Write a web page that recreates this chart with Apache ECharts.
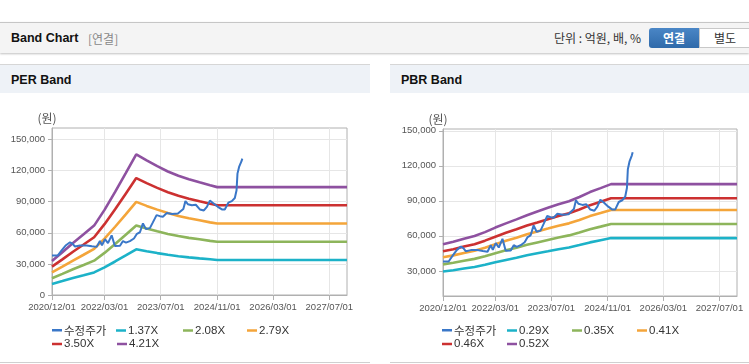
<!DOCTYPE html>
<html><head><meta charset="utf-8">
<script src="https://cdn.jsdelivr.net/npm/echarts@6/dist/echarts.min.js"></script>
<style>
html,body{margin:0;padding:0;width:749px;height:364px;overflow:hidden;background:#fff;font-family:'Liberation Sans',Arial,sans-serif;}
.topbar{position:absolute;left:0;top:22px;width:749px;height:30px;background:#f4f4f4;border-top:1px solid #c6c6c6;box-shadow:0 1px 2px rgba(0,0,0,0.25);}
.t1{position:absolute;left:11px;top:8px;font-weight:bold;font-size:12.5px;color:#111;}
.t2{position:absolute;left:88px;top:7px;font-size:12px;color:#888;font-family:'Noto Sans CJK KR',sans-serif;}
.unit{position:absolute;right:108px;top:6px;font-size:12px;color:#333;font-family:'Noto Sans CJK KR',sans-serif;}
.b1{position:absolute;left:649px;top:5px;width:50px;height:20px;background:linear-gradient(#4a86c6,#2f6aaa);border-radius:3px 0 0 3px;color:#fff;font-weight:bold;font-size:12px;text-align:center;line-height:20px;font-family:'Noto Sans CJK KR',sans-serif;}
.b2{position:absolute;left:699px;top:5px;width:50px;height:18px;background:#fff;border:1px solid #c8c8c8;color:#333;font-size:12px;text-align:center;line-height:18px;font-family:'Noto Sans CJK KR',sans-serif;}
.ph{position:absolute;top:64px;height:28px;background:#eef2f7;border-top:1px solid #d6d6d6;}
.ph span{position:absolute;left:11px;top:8px;font-weight:bold;font-size:12.5px;color:#111;}
.bl{position:absolute;top:362px;height:1px;background:#d0d0d0;}
#chart{position:absolute;left:0;top:0;width:749px;height:364px;z-index:2;}
</style></head>
<body>
<div class="topbar"><div class="t1">Band Chart</div><div class="t2">[연결]</div><div class="unit">단위 : 억원, 배, %</div><div class="b1">연결</div><div class="b2">별도</div></div>
<div class="ph" style="left:0;width:370px;"><span>PER Band</span></div>
<div class="ph" style="left:390px;width:359px;"><span>PBR Band</span></div>
<div class="bl" style="left:0;width:370px;"></div>
<div class="bl" style="left:390px;width:359px;"></div>
<div id="chart"></div>
<script>
const xTickDates = ['2020-12-01','2022-03-01','2023-07-01','2024-11-01','2026-03-01','2027-07-01'];
const xMin = '2020-12-01', xMax = '2027-12-01';
const perTicks = [0,30000,60000,90000,120000,150000];
const pbrTicks = [30000,60000,90000,120000,150000];

const priceName = '수정주가';
const priceDates = ['2020-12-01','2021-01-19','2021-02-26','2021-04-01','2021-05-06','2021-05-27','2021-06-18','2021-07-31','2021-09-27','2021-11-12','2021-12-23','2022-01-20','2022-02-07','2022-03-05','2022-03-31','2022-05-02','2022-05-30','2022-07-13','2022-08-08','2022-09-03','2022-10-07','2022-11-11','2022-12-07','2023-01-02','2023-01-28','2023-02-23','2023-03-29','2023-04-24','2023-05-26','2023-06-24','2023-07-20','2023-08-23','2023-10-06','2023-11-27','2023-12-23','2024-01-13','2024-01-31','2024-02-21','2024-03-27','2024-04-30','2024-06-04','2024-07-09','2024-08-04','2024-08-30','2024-09-29','2024-11-07','2024-12-12','2025-01-06','2025-02-06','2025-03-08','2025-04-03','2025-04-18','2025-04-26','2025-05-10','2025-05-31','2025-06-07'];
const priceValues = [38000,38000,43500,48000,50800,49500,46800,47800,47800,47000,46400,52000,48000,53800,50000,57500,47300,47500,52000,50500,52000,54500,59000,60500,69000,63500,64500,70000,77000,76000,75500,79000,78000,78500,81000,83000,90500,87500,86500,87000,82500,81500,85000,91000,88500,85000,82500,82500,89000,90500,93500,101000,117000,123500,129000,131500];

const perNames = ['1.37X','2.08X','2.79X','3.50X','4.21X'];
const perBandDates = ['2020-12-01','2021-03-01','2021-06-01','2021-09-01','2021-12-01','2022-03-01','2022-06-01','2022-09-01','2022-12-01','2023-03-01','2023-06-01','2023-09-01','2023-12-01','2024-03-01','2024-06-01','2024-09-01','2024-11-01','2027-12-01'];
const per137 = [10700,13400,16300,19000,21800,26700,32300,38200,44100,42200,40400,38800,37400,36300,35300,34400,33800,33800];
const per208 = [16200,20400,24800,28900,33100,40600,49100,58000,67000,64100,61400,58900,56800,55100,53700,52200,51400,51400];
const per279 = [21800,27300,33200,38800,44400,54400,65800,77800,89800,85900,82300,79000,76200,73900,72000,70000,68900,68900];
const per350 = [27300,34300,41700,48700,55700,68300,82600,97700,112700,107800,103300,99100,95600,92800,90300,87900,86500,86500];
const per421 = [32800,41300,50100,58500,66900,82100,99400,117500,135600,129700,124200,119100,114900,111600,108600,105700,104000,104000];

const pbrNames = ['0.29X','0.35X','0.41X','0.46X','0.52X'];
const pbrBandDates = ['2020-12-01','2021-03-01','2021-06-01','2021-09-01','2021-12-01','2022-03-01','2022-06-01','2022-09-01','2022-12-01','2023-03-01','2023-06-01','2023-09-01','2023-12-01','2024-03-01','2024-06-01','2024-09-01','2024-12-01','2027-12-01'];
const pbr029 = [29500,30600,32000,33400,35200,37400,39400,41300,43400,45100,46800,48600,50000,52100,54400,56300,58100,58100];
const pbr035 = [35600,36900,38700,40300,42500,45200,47600,49900,52300,54400,56500,58600,60400,62800,65600,67900,70200,70200];
const pbr041 = [41700,43300,45300,47200,49800,52900,55800,58400,61300,63800,66200,68700,70700,73600,76900,79500,82200,82200];
const pbr046 = [46800,48500,50800,52900,55900,59300,62600,65600,68800,71500,74300,77100,79400,82600,86300,89200,92200,92200];
const pbr052 = [52900,54900,57500,59800,63200,67100,70700,74100,77700,80900,84000,87100,89700,93300,97500,100900,104300,104300];

const colors = {price:'#3a77c8', c1:'#1cb2c8', c2:'#8db55b', c3:'#f4a53a', c4:'#cc3131', c5:'#8e51a0'};
const bandColors = [colors.c1, colors.c2, colors.c3, colors.c4, colors.c5];

function ts(s){const p=s.split('-').map(Number);return Date.UTC(p[0],p[1]-1,p[2]);}
function pad(n){return n<10?'0'+n:''+n;}
function fmtDate(v){const d=new Date(v);return d.getUTCFullYear()+'/'+pad(d.getUTCMonth()+1)+'/'+pad(d.getUTCDate());}
function zip(dates, vals){return dates.map((d,i)=>[ts(d), vals[i]]);}

const font = "'Liberation Sans',Arial,sans-serif";
const kfont = "'Noto Sans CJK KR',sans-serif";

function makeX(gi){
  return {type:'value', gridIndex:gi, min:ts(xMin), max:ts(xMax),
    axisLine:{lineStyle:{color:'#b0b0b0'}},
    axisTick:{show:true, length:5, lineStyle:{color:'#b0b0b0'}, customValues:xTickDates.map(ts)},
    axisLabel:{color:'#555', fontSize:9.5, fontFamily:font, margin:7, customValues:xTickDates.map(ts), formatter:fmtDate, hideOverlap:false, showMinLabel:true},
    splitLine:{show:true, lineStyle:{color:'#e6e6e6'}}};
}
function makeY(gi, min, max, ticks){
  return {type:'value', gridIndex:gi, min:min, max:max, name:'(원)', nameLocation:'end', nameGap:4,
    nameTextStyle:{color:'#555', fontSize:12, fontFamily:kfont, align:'center', padding:[0,10,0,0]},
    axisLine:{show:true, lineStyle:{color:'#b0b0b0'}},
    axisTick:{show:true, length:4, lineStyle:{color:'#b0b0b0'}, customValues:ticks},
    axisLabel:{color:'#555', fontSize:9.5, fontFamily:font, margin:7, customValues:ticks, showMinLabel:true},
    splitLine:{show:true, lineStyle:{color:'#e6e6e6'}}};
}
function band(name, gi, dates, vals, color){
  return {name:name, type:'line', xAxisIndex:gi, yAxisIndex:gi, data:zip(dates, vals), showSymbol:false, symbol:'none',
    lineStyle:{width:2.6, color:color}, itemStyle:{color:color}, z:2, silent:true};
}
function price(gi){
  return {name:priceName, type:'line', xAxisIndex:gi, yAxisIndex:gi, data:zip(priceDates, priceValues), showSymbol:false, symbol:'none',
    lineStyle:{width:2, color:colors.price}, itemStyle:{color:colors.price}, z:3, silent:true};
}
function leg(name, left, top){
  return {data:[name], left:left, top:top, icon:'rect', itemWidth:10, itemHeight:2.5, itemGap:0, padding:0, selectedMode:false,
    textStyle:{color:'#333', fontSize:11.5, fontFamily:(name===priceName?kfont:font), padding:[0,0,0,-3]}};
}

const perData=[per137,per208,per279,per350,per421];
const pbrData=[pbr029,pbr035,pbr041,pbr046,pbr052];
const series=[];
perNames.forEach((n,i)=>series.push(band(n,0,perBandDates,perData[i],bandColors[i])));
series.push(price(0));
pbrNames.forEach((n,i)=>series.push(band(n,1,pbrBandDates,pbrData[i],bandColors[i])));
series.push(price(1));

const r1=324.5, r2=338;
const legends=[
  leg(priceName,52,r1), leg(perNames[0],116,r1), leg(perNames[1],183,r1), leg(perNames[2],247,r1),
  leg(perNames[3],52,r2), leg(perNames[4],117,r2),
  leg(pbrNames[0],507,r1), leg(pbrNames[1],572,r1), leg(pbrNames[2],637,r1),
  leg(pbrNames[3],442,r2), leg(pbrNames[4],507,r2),
  leg(priceName,442,r1)
];

const chart = echarts.init(document.getElementById('chart'), null, {renderer:'canvas'});
chart.setOption({
  animation:false,
  textStyle:{fontFamily:font},
  grid:[
    {left:52, top:128, width:295, height:167, show:true, borderColor:'#b0b0b0', borderWidth:1, backgroundColor:'transparent'},
    {left:443, top:129, width:294, height:167, show:true, borderColor:'#b0b0b0', borderWidth:1, backgroundColor:'transparent'}
  ],
  xAxis:[makeX(0), makeX(1)],
  yAxis:[makeY(0,0,161000,perTicks), makeY(1,8500,151500,pbrTicks)],
  legend:legends,
  series:series
});
</script>
</body></html>
